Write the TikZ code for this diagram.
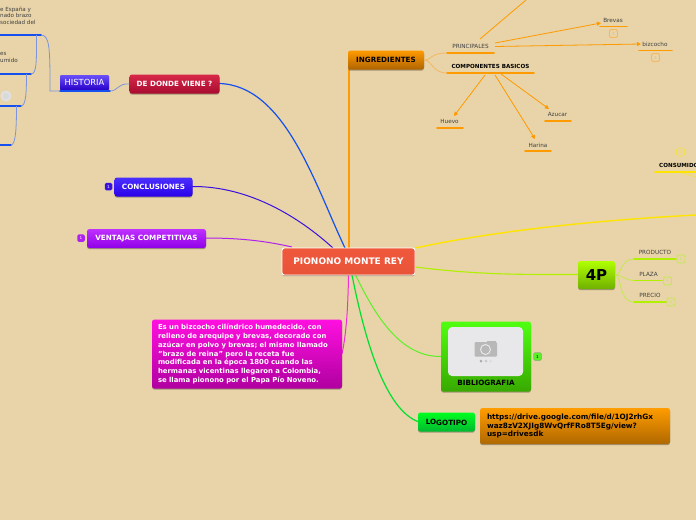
\documentclass[tikz,border=0pt]{standalone}
\usepackage{fontspec}
\setmainfont{DejaVu Sans}
\usetikzlibrary{arrows.meta,shadows,calc}
\definecolor{bgc}{HTML}{E8D4A8}
\definecolor{blueline}{HTML}{1450F0}
\definecolor{blueconn}{HTML}{7C94DC}
\definecolor{orangeline}{HTML}{FF9A00}
\definecolor{orangesoft}{HTML}{F4B860}
\definecolor{yellowline}{HTML}{FFE400}
\definecolor{yellowsoft}{HTML}{F4E050}
\definecolor{limeline}{HTML}{B0F000}
\definecolor{limesoft}{HTML}{C4E850}
\definecolor{greenline}{HTML}{5AF028}
\definecolor{brightgreen}{HTML}{00E030}
\definecolor{purpline}{HTML}{B020F0}
\definecolor{indigoline}{HTML}{3A10E0}
\definecolor{pinkline}{HTML}{F030D0}
\definecolor{camgray}{HTML}{B8B8B8}
\definecolor{camdot}{HTML}{ACACAC}
\definecolor{camdotb}{HTML}{C8C8C8}
\definecolor{camdotc}{HTML}{DCDCDC}
\definecolor{photobg}{HTML}{E8E8EA}
\tikzset{
  x=1pt,y=-1pt,
  box/.style={rounded corners=2.5pt,inner sep=0pt,minimum height=19pt,align=center,
    font=\bfseries\fontsize{7.2}{8}\selectfont,
    drop shadow={shadow xshift=0pt,shadow yshift=-1.2pt,fill=black,opacity=.3}},
  whitetxt/.style={text=white},
  grad/.style 2 args={/utils/exec={\definecolor{gt}{HTML}{#1}\definecolor{gb}{HTML}{#2}},top color=gt,bottom color=gb},
  thinl/.style={line width=.8pt},
  under/.style={line width=1.8pt,line cap=round},
  leaf/.style={inner sep=0pt,font=\fontsize{5.7}{6.5}\selectfont,text=black!75},
  badge/.style={draw=#1,line width=.8pt,rounded corners=1.5pt,minimum size=8pt,inner sep=0pt,text=#1,font=\fontsize{4.2}{4.5}\selectfont},
  fbadge/.style={fill=#1,rounded corners=1.5pt,minimum size=7.5pt,inner sep=0pt,text=white,font=\fontsize{4.2}{4.5}\selectfont},
  arr/.style={-{Triangle[length=4pt,width=4pt]},line width=.8pt,orangeline},
}
\begin{document}
\begin{tikzpicture}
\useasboundingbox (0,0) rectangle (696,520);
\clip (0,0) rectangle (696,520);
\fill[bgc] (0,0) rectangle (696,520);

% coordinates of main connectors
\coordinate (cb) at (345,248);
\coordinate (ptop) at (526,0);
\coordinate (yedge) at (696,215);

% main connectors
\draw[blueline,line width=1.2pt] (219,83.5) .. controls (285,85) and (315,185) .. (cb);
\draw[orangeline,line width=1.2pt] (349,69) -- (349,248);
\draw[indigoline,line width=1pt] (192,186.5) .. controls (250,186) and (300,218) .. (333,248);
\draw[purpline,line width=1pt] (206,238) .. controls (245,238) and (270,242) .. (292,247);
\draw[yellowline,line width=1.4pt] (415,248) .. controls (500,230) and (600,220) .. (yedge);
\draw[limeline,line width=1.1pt] (415,267) .. controls (480,275) and (520,274.5) .. (578,274.5);
\draw[greenline,line width=1pt] (355.5,275) .. controls (375,315) and (400,357) .. (441,356.5);
\draw[brightgreen,line width=1.2pt] (352,275) .. controls (365,340) and (385,410) .. (419,422);
\draw[pinkline,line width=1pt] (348.5,275) .. controls (348,310) and (346,335) .. (342,354);

% nodes
\node[box,whitetxt,grad={F0583C}{E85438},draw=white,line width=.9pt,minimum width=133pt,minimum height=27pt,font=\bfseries\fontsize{9}{10}\selectfont] (root) at (348.5,261.5) {PIONONO MONTE REY};
\node[box,whitetxt,grad={D82848}{A80C30},minimum width=90pt] (dv) at (174.5,84) {DE DONDE VIENE ?};
\node[box,grad={FF9A00}{B06400},minimum width=76pt] (ing) at (386,60) {INGREDIENTES};
\node[box,whitetxt,grad={4A30FF}{2A00E8},minimum width=78pt] (conc) at (153.5,187) {CONCLUSIONES};
\node[box,whitetxt,grad={C030FF}{9000E8},minimum width=119pt] (vent) at (146.5,238.5) {VENTAJAS COMPETITIVAS};
\node[box,grad={B0FF00}{70B000},minimum width=37pt,minimum height=28pt,font=\bfseries\fontsize{15}{16}\selectfont] (fourp) at (596.5,275) {4P};
\node[box,grad={50FF10}{38A800},minimum width=90pt,minimum height=70pt] (bib) at (486,356.5) {};
\node[fill=photobg,rounded corners=4pt,minimum width=75pt,minimum height=49pt,inner sep=0pt] (photo) at (485.5,351.5) {};
\node[inner sep=0pt,font=\bfseries\fontsize{7.2}{8}\selectfont] (bibt) at (486,382.5) {BIBLIOGRAFIA};
\node[box,grad={00FF20}{00B830},minimum width=57pt] (logo) at (446.5,422) {\raisebox{.8pt}{LO}GOTIPO};
\node[box,grad={FF9C00}{B06800},minimum width=190pt,minimum height=36pt,align=left,text width=176pt,font=\bfseries\fontsize{7.3}{8.5}\selectfont] (url) at (575,426) {https://drive.google.com/file/d/1OJ2rhGx\\waz8zV2XJIg8WvQrfFRo8T5Eg/view?\\usp=drivesdk};
\node[box,whitetxt,grad={FF10E0}{B000A0},minimum width=190pt,minimum height=69pt,align=left,text width=178pt,font=\bfseries\fontsize{6.9}{8.7}\selectfont] (desc) at (247,354) {Es un bizcocho cilíndrico humedecido, con\\relleno de arequipe y brevas, decorado con\\azúcar en polvo y brevas; el mismo llamado\\"brazo de reina" pero la receta fue\\modificada en la época 1800 cuando las\\hermanas vicentinas llegaron a Colombia,\\se llama pionono por el Papa Pío Noveno.};
\node[box,whitetxt,rounded corners=1pt,grad={6A50F8}{2800C8},minimum width=49pt,minimum height=15pt,font=\fontsize{8.4}{9}\selectfont] (hist) at (84.5,82.5) {HISTORIA};

% camera icon
\fill[camgray,rounded corners=1pt] (474.5,342) rectangle (497,356.5);
\fill[camgray] (487,343) rectangle (496,340.5);
\node[circle,draw=photobg,line width=1pt,fill=camgray,minimum size=10pt,inner sep=0pt] (lens) at (485.5,349.5) {};
\fill[camdot] (481,361) circle (1.5);
\fill[camdotb] (486,361) circle (1.5);
\fill[camdotc] (490.5,361) circle (1.5);

% historia
\coordinate (hl) at (60,91);
\coordinate (hr) at (110,91);
\draw[under,blueline] (hl) -- (hr);
\draw[blueconn,line width=.8pt] (hr) .. controls (118,91) and (118,83) .. (dv.west);
\draw[blueconn,line width=.8pt] (hl) -- (50,91) .. controls (50,50) and (50,35) .. (41,35);
\coordinate (u1) at (41,35); \coordinate (u2) at (31,74); \coordinate (u3) at (21,106); \coordinate (u4) at (11,145);
\draw[under,blueline] (-2,35) -- (u1);
\draw[under,blueline] (-2,74) -- (u2);
\draw[under,blueline] (-2,106) -- (u3);
\draw[under,blueline] (-2,145) -- (u4);
\draw[blueconn,line width=.8pt] (36.5,35) .. controls (36.5,60) and (37,74) .. (u2);
\draw[blueconn,line width=.8pt] (26.5,74) .. controls (26.5,92) and (26,106) .. (u3);
\draw[blueconn,line width=.8pt] (16.5,106) .. controls (16.5,125) and (16,145) .. (u4);
\node[anchor=west,inner sep=0pt,align=left,text=black!75,font=\fontsize{5.6}{6.4}\selectfont] (t1) at (0,15.5) {e España y\\nado brazo\\sociedad del};
\node[anchor=west,inner sep=0pt,align=left,text=black!75,font=\fontsize{5.6}{7.2}\selectfont] (t2) at (0,57.5) {es\\umido};
\node[circle,fill=black!12,minimum size=11pt,inner sep=0pt] (img) at (6,96) {};
\node[circle,fill=white!85!black,minimum size=6pt,inner sep=0pt] (imgc) at (6,96) {};
\node[anchor=west,inner sep=0pt,align=left,text=black!75,font=\fontsize{5.6}{6.5}\selectfont] (t4) at (-3,128) {s\\s};

% ingredientes
\coordinate (p1) at (447,53); \coordinate (p2) at (494,53);
\coordinate (c1) at (447,73); \coordinate (c2) at (534,73);
\draw[under,orangeline] (p1) -- (p2);
\draw[under,orangeline] (c1) -- (c2);
\draw[orangesoft,thinl] (ing.east) .. controls (432,60) and (430,53) .. (p1);
\draw[orangesoft,thinl] (ing.east) .. controls (432,60) and (432,73) .. (c1);
\node[leaf] (pr) at (470.5,46) {PRINCIPALES};
\node[leaf,font=\bfseries\fontsize{5.6}{6.5}\selectfont,text=black] (co) at (490.5,66) {COMPONENTES BASICOS};
\node[leaf] (br) at (613,20) {Brevas};
\node[leaf] (bz) at (655,44) {bizcocho};
\node[leaf] (hu) at (449.5,121) {Huevo};
\node[leaf] (az) at (557.5,114) {Azucar};
\node[leaf] (ha) at (538,145) {Harina};
\draw[under,orangeline] (600,26.5) -- (627,26.5);
\draw[under,orangeline] (639,50.5) -- (672,50.5);
\draw[under,orangeline] (437,128) -- (463,128);
\draw[under,orangeline] (545,121) -- (571,121);
\draw[under,orangeline] (525,151) -- (551,151);
\draw[orangeline,line width=.8pt] (480,39) -- (ptop);
\draw[arr] (495,43) -- (601,23);
\draw[arr] (495,46.5) -- (641,44);
\draw[arr] (485,75) -- (454,116);
\draw[arr] (495,75) -- (535,139);
\draw[arr] (501,74) -- (549,109);
\node[badge=orangesoft] (b1) at (613.5,33.5) {1};
\node[badge=orangesoft] (b2) at (655.5,57.5) {1};

% consumidor
\node[anchor=west,inner sep=0pt,font=\bfseries\fontsize{5.6}{6.5}\selectfont] (cons) at (659,165) {CONSUMIDOR};
\draw[under,yellowline] (655,172) -- (698,172);
\draw[yellowsoft,thinl] (682,173) -- (696,177);
\node[badge=yellowsoft] (b3) at (680.5,152) {1};

% 4P
\node[leaf] (pd) at (655,252) {PRODUCTO};
\node[leaf] (pz) at (648.5,274) {PLAZA};
\node[leaf] (pc) at (650,295) {PRECIO};
\coordinate (pd1) at (634,259); \coordinate (pd2) at (676,259);
\coordinate (pz1) at (634,280.5); \coordinate (pz2) at (662,280.5);
\coordinate (pc1) at (634,302); \coordinate (pc2) at (666,302);
\draw[under,limeline] (pd1) -- (pd2);
\draw[under,limeline] (pz1) -- (pz2);
\draw[under,limeline] (pc1) -- (pc2);
\draw[limesoft,thinl] (fourp.east) .. controls (622,274.5) and (620,259) .. (pd1);
\draw[limesoft,thinl] (fourp.east) .. controls (622,274.5) and (625,280.5) .. (pz1);
\draw[limesoft,thinl] (fourp.east) .. controls (622,274.5) and (618,302) .. (pc1);
\node[badge=limesoft] (b4) at (681,259) {1};
\node[badge=limesoft] (b5) at (667.5,281) {1};
\node[badge=limesoft] (b6) at (671,302) {1};

% filled badges
\node[fbadge=indigoline] (b7) at (108.5,186.5) {1};
\node[fbadge=purpline] (b8) at (81,238) {1};
\node[fill=greenline,draw=black!50,line width=.3pt,rounded corners=1.5pt,minimum size=8pt,inner sep=0pt,font=\fontsize{4.2}{4.5}\selectfont] (b9) at (537.5,356.5) {1};
\end{tikzpicture}
\end{document}
